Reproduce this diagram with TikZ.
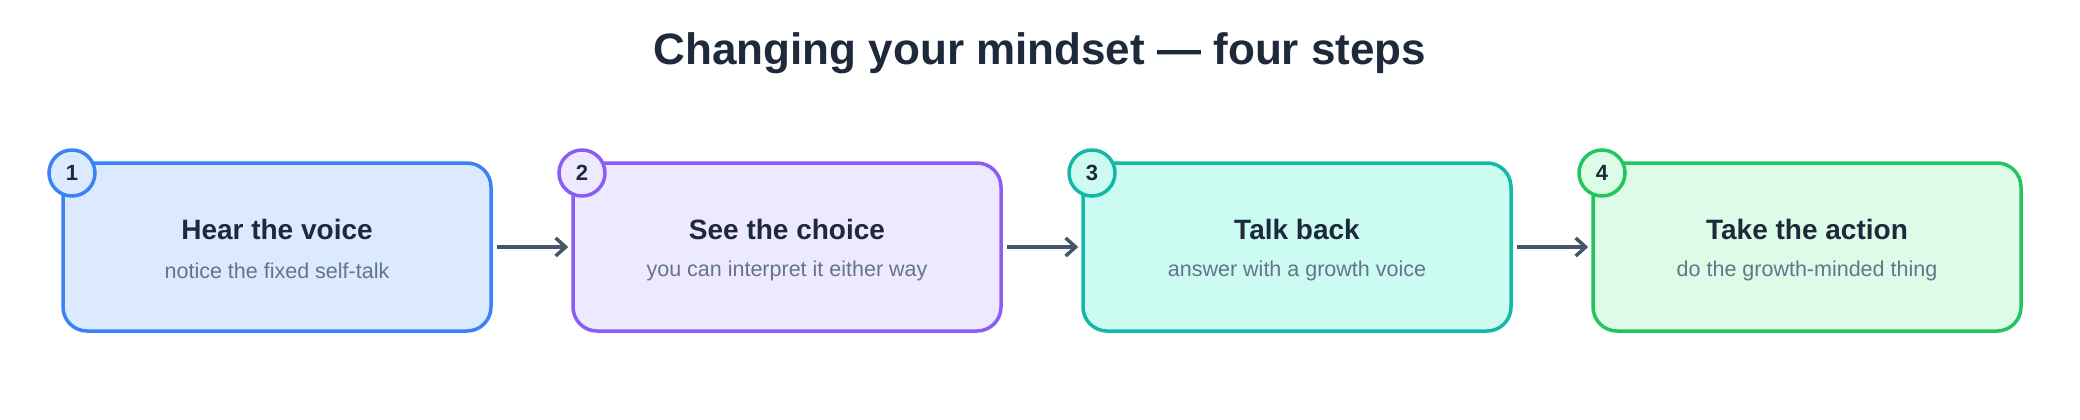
\documentclass[tikz,border=0pt]{standalone}
\usepackage{fontspec}
\setmainfont{Liberation Sans}
\usetikzlibrary{arrows.meta}
\definecolor{ink}{HTML}{1E293B}
\definecolor{sub}{HTML}{64748B}
\definecolor{arr}{HTML}{475569}
\definecolor{cA}{HTML}{3B82F6}\definecolor{fA}{HTML}{DBEAFE}
\definecolor{cB}{HTML}{8B5CF6}\definecolor{fB}{HTML}{EDE9FE}
\definecolor{cC}{HTML}{14B8A6}\definecolor{fC}{HTML}{CCFBF1}
\definecolor{cD}{HTML}{22C55E}\definecolor{fD}{HTML}{DCFCE7}
\begin{document}
\begin{tikzpicture}[x=1pt,y=-1pt,
 box/.style={draw,line width=3.5pt,rounded corners=24pt,minimum width=428pt,minimum height=168pt,inner sep=0pt},
 num/.style={circle,draw,line width=3.5pt,minimum size=46pt,inner sep=0pt,font=\fontsize{22}{22}\selectfont\bfseries,text=ink},
 head/.style={font=\fontsize{28}{28}\selectfont\bfseries,text=ink},
 subt/.style={font=\fontsize{21.5}{21.5}\selectfont,text=sub},
 conn/.style={draw=arr,line width=3.5pt,-{Straight Barb[length=10pt,width=18pt,line width=3.5pt]}}]
\useasboundingbox (0,0) rectangle (2080,420);
\node[font=\fontsize{44}{44}\selectfont\bfseries,text=ink] (title) at (1040,53) {Changing your mindset — four steps};
\foreach \i/\x/\c/\f/\h/\s in {1/277/cA/fA/Hear the voice/notice the fixed self-talk,
 2/787/cB/fB/See the choice/you can interpret it either way,
 3/1297/cC/fC/Talk back/answer with a growth voice,
 4/1807/cD/fD/Take the action/do the growth-minded thing}{
 \node[box,draw=\c,fill=\f] (b\i) at (\x,247) {};
 \node[head] (h\i) at (\x,229) {\h};
 \node[subt] (s\i) at (\x,271) {\s};
 \node[num,draw=\c,fill=\f] (n\i) at (\x-205,173) {\i};
}
\draw[conn] ([xshift=4pt]b1.east) -- ([xshift=-3pt]b2.west);
\draw[conn] ([xshift=4pt]b2.east) -- ([xshift=-3pt]b3.west);
\draw[conn] ([xshift=4pt]b3.east) -- ([xshift=-3pt]b4.west);
\end{tikzpicture}
\end{document}
